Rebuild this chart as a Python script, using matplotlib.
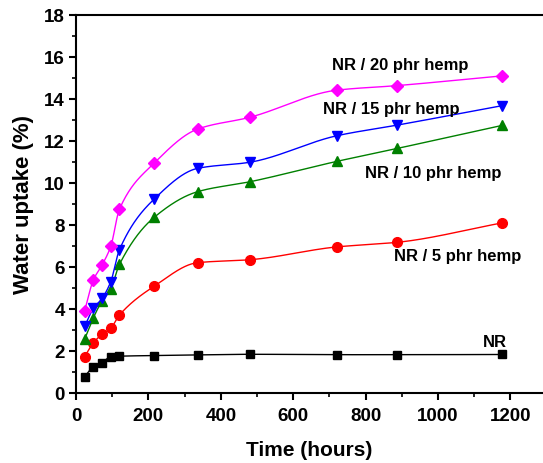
import numpy as np
import matplotlib.pyplot as plt

plt.rcParams['font.family'] = ['Liberation Sans', 'DejaVu Sans']
plt.rcParams['font.weight'] = 'bold'

# immersion times (hours)
time_h = [24, 48, 72, 96, 120, 216, 336, 480, 720, 888, 1176]

# water uptake (%) for each compound
nr = [0.78, 1.25, 1.44, 1.73, 1.75, 1.78, 1.81, 1.84, 1.82, 1.82, 1.83]
hemp5 = [1.73, 2.39, 2.79, 3.08, 3.71, 5.08, 6.20, 6.34, 6.95, 7.17, 8.09]
hemp10 = [2.57, 3.58, 4.38, 4.95, 6.12, 8.36, 9.58, 10.05, 11.02, 11.64, 12.73]
hemp15 = [3.17, 4.03, 4.50, 5.30, 6.82, 9.23, 10.69, 10.98, 12.24, 12.75, 13.67]
hemp20 = [3.92, 5.38, 6.09, 6.98, 8.75, 10.94, 12.56, 13.12, 14.41, 14.63, 15.09]

labels = ['NR', 'NR / 5 phr hemp', 'NR / 10 phr hemp', 'NR / 15 phr hemp', 'NR / 20 phr hemp']
label_pos = [(1123, 2.47), (878, 6.52), (798, 10.51), (682, 13.56), (706, 15.62)]


def pchip(x, y, xs):
    # monotone cubic (Fritsch-Carlson) for a smooth connecting curve
    x = np.asarray(x, float)
    y = np.asarray(y, float)
    h = np.diff(x)
    d = np.diff(y) / h
    m = np.zeros_like(y)
    for k in range(1, len(x) - 1):
        if d[k - 1] * d[k] > 0:
            w1 = 2 * h[k] + h[k - 1]
            w2 = h[k] + 2 * h[k - 1]
            m[k] = (w1 + w2) / (w1 / d[k - 1] + w2 / d[k])
    m[0] = d[0]
    m[-1] = d[-1]
    i = np.clip(np.searchsorted(x, xs) - 1, 0, len(x) - 2)
    t = (xs - x[i]) / h[i]
    h00 = 2 * t**3 - 3 * t**2 + 1
    h10 = t**3 - 2 * t**2 + t
    h01 = -2 * t**3 + 3 * t**2
    h11 = t**3 - t**2
    return h00 * y[i] + h10 * h[i] * m[i] + h01 * y[i + 1] + h11 * h[i] * m[i + 1]


fig = plt.figure(figsize=(5.43, 4.64), dpi=100)
ax = fig.add_axes([0.14, 0.151, 0.86, 0.815])

series = [
    (nr, 'black', 's', 6),
    (hemp5, '#ff0000', 'o', 7),
    (hemp10, '#008000', '^', 7.5),
    (hemp15, '#0000ff', 'v', 7.5),
    (hemp20, '#ff00ff', 'D', 6.5),
]
xs = np.linspace(time_h[0], time_h[-1], 600)
for (vals, col, mk, ms), lab, pos in zip(series, labels, label_pos):
    ax.plot(xs, pchip(time_h, vals, xs), color=col, lw=1)
    ax.plot(time_h, vals, ls='none', marker=mk, ms=ms, color=col)
    ax.text(pos[0], pos[1], lab, fontsize=12, fontweight='bold', va='center', ha='left')

ax.set_xlim(0, 1290)
ax.set_ylim(0, 18)
ax.set_xticks(np.arange(0, 1201, 200))
ax.set_xticks(np.arange(100, 1201, 200), minor=True)
ax.set_yticks(np.arange(0, 19, 2))
ax.set_yticks(np.arange(1, 18, 2), minor=True)
ax.tick_params(which='major', length=5, width=1.5, labelsize=13.5, direction='out')
ax.tick_params(axis='x', which='major', pad=5)
ax.tick_params(axis='y', which='major', pad=3)
ax.tick_params(which='minor', length=3, width=1.2, direction='out')
ax.tick_params(top=False, right=False)
for s in ['left', 'bottom', 'top']:
    ax.spines[s].set_linewidth(1.5)
ax.spines['right'].set_visible(False)
for t in ax.get_xticklabels() + ax.get_yticklabels():
    t.set_fontweight('bold')

ax.set_xlabel('Time (hours)', fontsize=15, fontweight='bold', labelpad=12)
ax.set_ylabel('Water uptake (%)', fontsize=16, fontweight='bold', labelpad=7)

fig.savefig('out.png', dpi=100)
